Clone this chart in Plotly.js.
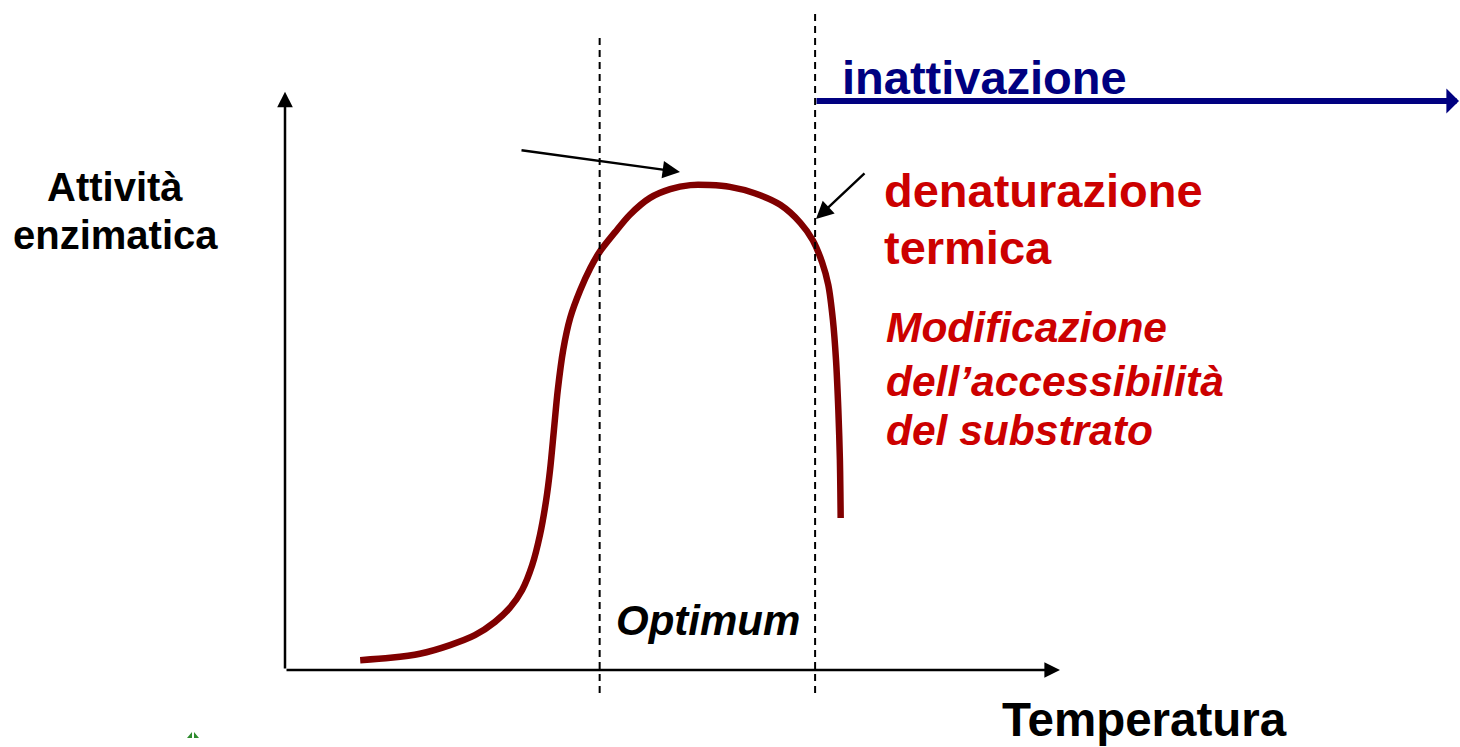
<!DOCTYPE html>
<html>
<head>
<meta charset="utf-8">
<script src="https://cdn.plot.ly/plotly-3.0.1.min.js"></script>
<style>html,body{margin:0;padding:0;background:#fff;}#chart{width:1460px;height:747px;}</style>
</head>
<body>
<div id="chart"></div>
<script>
// ---- data ----
const temperature = [9.7, 13.6, 17.4, 21.3, 24.5, 27.1, 29.0, 30.6, 31.9, 32.9, 33.7, 34.2, 34.7, 35.2, 35.9, 36.8, 38.1, 39.4, 40.6, 42.6, 44.5, 47.1, 49.7, 52.3, 54.8, 57.4, 60.6, 63.9, 66.5, 68.1, 69.3, 70.1, 70.7, 71.1, 71.4, 71.6, 71.7];
const activity    = [1.7, 2.1, 2.8, 4.3, 6.0, 8.3, 10.7, 13.8, 18.1, 23.3, 29.3, 34.5, 41.4, 48.3, 55.2, 60.7, 65.5, 69.3, 72.1, 75.5, 78.5, 81.4, 82.9, 83.6, 83.6, 83.3, 82.2, 80.2, 77.1, 74.1, 70.3, 66.4, 60.3, 53.4, 44.8, 36.2, 26.2];
const optimumBounds = [40.6, 68.4];
const yLabelLines = ["Attività", "enzimatica"];
const xLabel = "Temperatura";
const optimumLabel = "Optimum";
const inactivationLabel = "inattivazione";
const denatLines = ["denaturazione", "termica"];
const accessLines = ["Modificazione", "dell’accessibilità", "del substrato"];

// ---- layout helpers (pixel -> paper) ----
const W = 1460, H = 747;
const px = x => x / W;
const py = y => (H - y) / H;
const FONT = "Liberation Sans, Arial, Helvetica, sans-serif";
const RED = "#CC0000", NAVY = "#000080", CURVE = "#800000";

const trace = {
  x: temperature, y: activity, type: "scatter", mode: "lines",
  line: {color: CURVE, width: 6.5, shape: "spline", smoothing: 0.8},
  hoverinfo: "skip"
};

const ann = [];
function txt(text, x, y, size, color, italic, anchor, yanchor) {
  ann.push({xref: "paper", yref: "paper", x: px(x), y: py(y), text: italic ? "<i><b>" + text + "</b></i>" : "<b>" + text + "</b>",
    showarrow: false, xanchor: anchor || "left", yanchor: yanchor || "middle", borderpad: 0,
    font: {family: FONT, size: size, color: color}});
}
// axes arrows
ann.push({xref: "x", yref: "y", axref: "x", ayref: "y", x: 100, y: 0, ax: 0, ay: 0, text: "", showarrow: true,
  arrowhead: 2, arrowwidth: 2.5, arrowsize: 1.25, arrowcolor: "#000", standoff: 0, startstandoff: 0});
ann.push({xref: "x", yref: "y", axref: "x", ayref: "y", x: 0, y: 99.7, ax: 0, ay: 0, text: "", showarrow: true,
  arrowhead: 2, arrowwidth: 2.5, arrowsize: 1.25, arrowcolor: "#000", standoff: 0, startstandoff: 0});
// pointer arrows
ann.push({xref: "paper", yref: "paper", x: px(680), y: py(172), ax: 520 - 680, ay: 150 - 172, text: "", showarrow: true,
  arrowhead: 2, arrowwidth: 2.4, arrowsize: 1.45, arrowcolor: "#000", standoff: 0});
ann.push({xref: "paper", yref: "paper", x: px(816), y: py(219), ax: 866 - 816, ay: 172 - 219, text: "", showarrow: true,
  arrowhead: 2, arrowwidth: 2.4, arrowsize: 1.45, arrowcolor: "#000", standoff: 0});
// inactivation arrow
ann.push({xref: "paper", yref: "paper", x: px(1459), y: py(101), ax: 815 - 1459, ay: 0, text: "", showarrow: true,
  arrowhead: 1, arrowwidth: 6, arrowsize: 0.7, arrowcolor: NAVY, standoff: 0});

txt(inactivationLabel, 841, 78, 47, NAVY, false);
txt(denatLines[0], 883, 190, 47, RED, false);
txt(denatLines[1], 883, 247, 47, RED, false);
txt(accessLines[0], 885, 327, 42.5, RED, true);
txt(accessLines[1], 885, 381, 42.5, RED, true);
txt(accessLines[2], 885, 430, 42.5, RED, true);
txt(yLabelLines[0], 115, 187, 40, "#000", false, "center");
txt(yLabelLines[1], 115, 235, 40, "#000", false, "center");
txt(xLabel, 1001, 747, 47.5, "#000", false, "left", "bottom");
txt(optimumLabel, 615, 620, 42, "#000", true);

const shapes = optimumBounds.map((b, i) => ({
  type: "line", xref: "x", yref: "paper", x0: b, x1: b,
  y0: py(693), y1: py(i === 0 ? 38 : 12),
  line: {color: "#000", width: 2, dash: "7px,5px"}
}));
// small green mark at bottom-left
shapes.push({type: "path", xref: "paper", yref: "paper",
  path: `M ${px(187)} ${py(738)} L ${px(192)} ${py(732)} L ${px(192)} ${py(738)} Z M ${px(194)} ${py(738)} L ${px(194)} ${py(732)} L ${px(199)} ${py(738)} Z`,
  fillcolor: "#2E8B2E", line: {width: 0}});

const layout = {
  width: W, height: H, margin: {l: 0, r: 0, t: 0, b: 0},
  paper_bgcolor: "#fff", plot_bgcolor: "rgba(0,0,0,0)", showlegend: false,
  xaxis: {domain: [px(285), px(1060)], range: [0, 100], visible: false, fixedrange: true},
  yaxis: {domain: [py(670), py(90)], range: [0, 100], visible: false, fixedrange: true},
  annotations: ann, shapes: shapes
};
Plotly.newPlot("chart", [trace], layout, {displayModeBar: false, staticPlot: true});
</script>
</body>
</html>
